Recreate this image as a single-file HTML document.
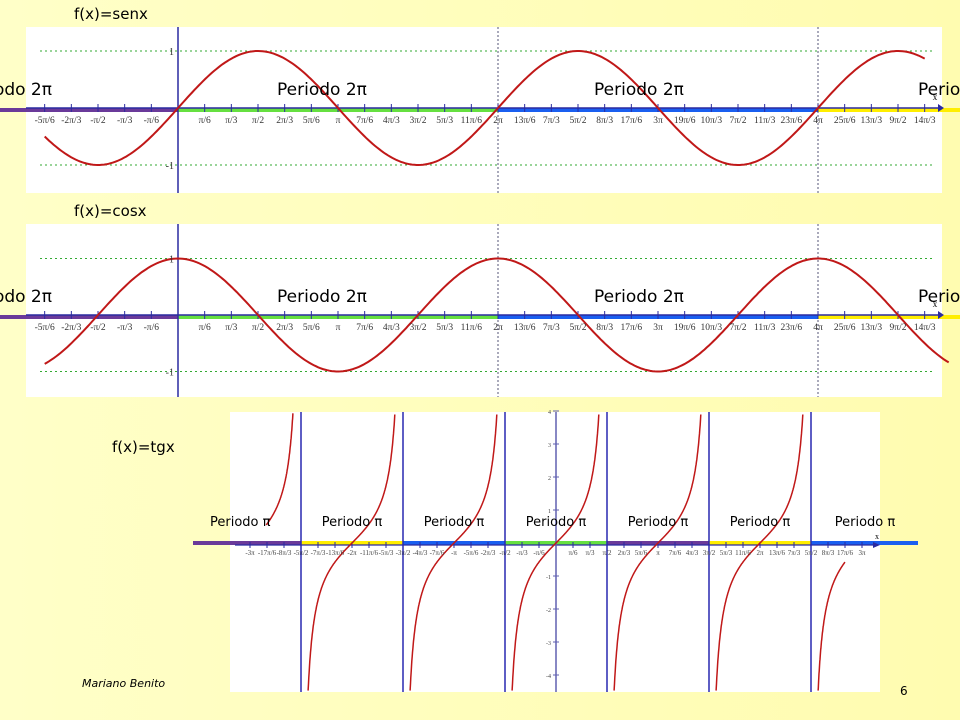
<!DOCTYPE html>
<html><head><meta charset="utf-8"><style>
body{margin:0;width:960px;height:720px;overflow:hidden;background:linear-gradient(90deg,#ffffc8,#fffcb0);font-family:"Liberation Sans",sans-serif}
svg{position:absolute;left:0;top:0}
</style></head><body>
<svg id="s" width="960" height="720"></svg>
<script>
// data
const sinTickK=[-5,-4,-3,-2,-1,1,2,3,4,5,6,7,8,9,10,11,12,13,14,15,16,17,18,19,20,21,22,23,24,25,26,27,28];
const sinRange=[-5/6,14/3+0.0];
const cosRange=[-5/6,14/3+0.15];
const tanRange=[-2.84,17/6-0.0];
const tanTickK=[];for(let k=-18;k<=18;k++)if(k!==0)tanTickK.push(k);
const amp=1;
const NS="http://www.w3.org/2000/svg",S=document.getElementById('s');
function el(t,a,p){const e=document.createElementNS(NS,t);for(const k in a)e.setAttribute(k,a[k]);(p||S).appendChild(e);return e;}
function gcd(a,b){return b?gcd(b,a%b):a}
function lab(k){const s=k<0?'-':'';k=Math.abs(k);const g=gcd(k,6);const n=k/g,d=6/g;let t=(n===1?'':n)+'π';if(d!==1)t+='/'+d;return s+t;}
function txt(x,y,t,sz,fam,anchor,name,extra){const e=el('text',Object.assign({x:x,y:y,'font-size':sz,'font-family':fam,'text-anchor':anchor||'start',},extra||{}));e.textContent=t;return e;}

function wave(fn,ox,oy,pi,unit,top,bottom,range,title,ty,name){
  const g=el('g',{});
  
  
  const r=el('rect',{x:26,y:top,width:916,height:bottom-top,fill:'#fff'},g);
  
  [1,-1].forEach(v=>{const l=el('line',{x1:40,x2:935,y1:oy-v*unit,y2:oy-v*unit,stroke:'#3a3','stroke-dasharray':'2,3','stroke-width':1},g);
    txt(ox-4,oy-v*unit+4,String(v),10,'Liberation Serif','end','y-tick-label').setAttribute('fill','#333');});
  [2,4].forEach(m=>{const l=el('line',{x1:ox+m*pi,x2:ox+m*pi,y1:top,y2:bottom,stroke:'#557','stroke-dasharray':'2,2'},g);});
  const segs=[[0,ox,'#6a3a9a'],[ox,ox+2*pi,'#66e040'],[ox+2*pi,ox+4*pi,'#1a5ff0'],[ox+4*pi,960,'#ffee00']];
  segs.forEach(s=>{const l=el('line',{x1:s[0],x2:s[1],y1:oy+2,y2:oy+2,stroke:s[2],'stroke-width':4},g);});
  const ax=el('line',{x1:26,x2:938,y1:oy,y2:oy,stroke:'#2a2aa0','stroke-width':1.5},g);
  el('path',{d:`M938 ${oy-4} L944 ${oy} L938 ${oy+4}Z`,fill:'#2a2aa0'},g);
  txt(935,oy-8,'x',9,'Liberation Serif','middle','x-axis-title');
  const ya=el('line',{x1:ox,x2:ox,y1:top,y2:bottom,stroke:'#2a2aa0','stroke-width':1.5},g);
  sinTickK.forEach(k=>{const x=ox+k*pi/6;const t=el('line',{x1:x,x2:x,y1:oy-4,y2:oy+4,stroke:'#2a2aa0'},g);
    txt(x,oy+15,lab(k),9.5,'Liberation Serif','middle','x-tick-label').setAttribute('fill','#333');});
  let d='';for(let i=0;i<=400;i++){const t=range[0]+(range[1]-range[0])*i/400;d+=(i?'L':'M')+(ox+t*pi).toFixed(1)+' '+(oy-amp*fn(t*Math.PI)*unit).toFixed(1);}
  const c=el('path',{d:d,fill:'none',stroke:'#c01818','stroke-width':2},g);
  txt(74,ty,title,15,'DejaVu Sans','start','chart-title');
  [-0,277,594,918].forEach((x,i)=>txt(i?x:52,oy-13,i?'Periodo 2π':'odo 2π',17,'DejaVu Sans',i?'start':'end','period-label'));
}
wave(Math.sin,178,108,160,57,27,193,sinRange,'f(x)=senx',19,'sine-chart');
wave(Math.cos,178,315,160,56.5,224,397,cosRange,'f(x)=cosx',216,'cosine-chart');

(function(){
 const ox=556,oy=543,pi=102,unit=33,top=412,bottom=692;
 const g=el('g',{});
 const r=el('rect',{x:230,y:top,width:650,height:bottom-top,fill:'#fff'},g);
 const cols=['#6a3a9a','#ffee00','#1a5ff0','#66e040','#6a3a9a','#ffee00','#1a5ff0'];
 for(let i=0;i<7;i++){const a=i===0?193:ox+(i-3.5)*pi,b=i===6?918:ox+(i-2.5)*pi;
   const l=el('line',{x1:a,x2:b,y1:oy,y2:oy,stroke:cols[i],'stroke-width':4},g);
   txt(i===0?210:(i===6?865:(a+b)/2),526,'Periodo π',13,'DejaVu Sans',i===0?'start':'middle','period-label');}
 const ax=el('line',{x1:235,x2:875,y1:oy+2,y2:oy+2,stroke:'#2a2aa0','stroke-width':1.2},g);
 el('path',{d:`M873 ${oy-1} L880 ${oy+2} L873 ${oy+5}Z`,fill:'#2a2aa0'},g);
 txt(877,oy-4,'x',8,'Liberation Serif','middle','x-axis-title');
 const ya=el('line',{x1:ox,x2:ox,y1:top,y2:bottom,stroke:'#6060b0','stroke-width':1.5},g);
 [-4,-3,-2,-1,1,2,3,4].forEach(v=>{const y=oy-v*unit;el('line',{x1:ox-3,x2:ox+3,y1:y,y2:y,stroke:'#6060b0'},g);txt(ox-5,y+3,String(v),6,'Liberation Serif','end','y-tick-label').setAttribute('fill','#444');});
 tanTickK.forEach(k=>{const x=ox+k*pi/6;el('line',{x1:x,x2:x,y1:oy-1,y2:oy+5,stroke:'#2a2aa0'},g);txt(x,oy+12,lab(k),7,'Liberation Serif','middle','x-tick-label').setAttribute('fill','#444');});
 for(let m=-2.5;m<=2.5;m++){const x=ox+m*pi;const l=el('line',{x1:x,x2:x,y1:top,y2:bottom,stroke:'#2828b0','stroke-width':1.5},g);}
 for(let b=-3;b<=3;b++){let lo=b-0.5,hi=b+0.5;lo=Math.max(lo,tanRange[0]);hi=Math.min(hi,tanRange[1]);if(hi<=lo)continue;
   let d='';let started=false;for(let i=0;i<=300;i++){let t=lo+(hi-lo)*i/300;if(Math.abs(t-(b+0.5))<0.005)t=b+0.495;if(Math.abs(t-(b-0.5))<0.005)t=b-0.495;let y=oy-Math.tan(t*Math.PI)*unit;if(y<top||y>bottom){if(started)break;else continue;}d+=(started?'L':'M')+(ox+t*pi).toFixed(1)+' '+y.toFixed(1);started=true;}
   const c=el('path',{d:d,fill:'none',stroke:'#c01818','stroke-width':1.5},g);}
 txt(112,452,'f(x)=tgx',15,'DejaVu Sans','start','chart-title');
})();
txt(82,687,'Mariano Benito',11,'DejaVu Sans','start','footer-author').setAttribute('font-style','italic');
txt(900,695,'6',12,'DejaVu Sans','start','slide-number');
</script>
</body></html>
